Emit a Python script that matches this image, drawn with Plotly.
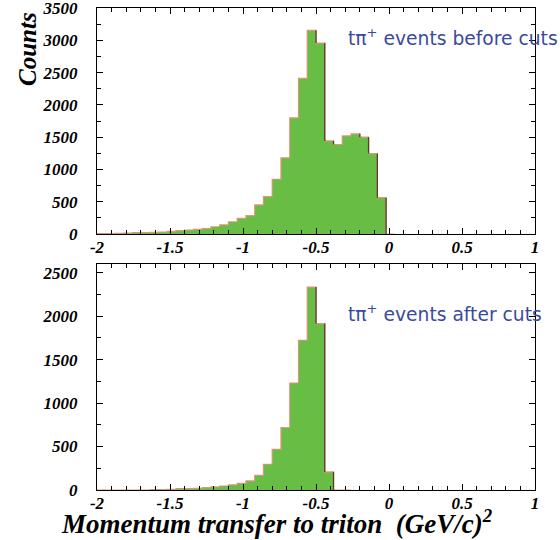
import plotly.graph_objects as go

# Histogram binning: 0.06-wide bins starting at t = -2
BIN_START = -2.0
BIN_WIDTH = 0.06

# Counts per bin, tπ+ events before cuts (bins from -2.00 up to 0.04)
counts_before = [
    5, 5, 10, 15, 18, 20, 25, 30, 40, 52,
    62, 72, 83, 112, 140, 190, 243, 284, 450, 579,
    848, 1179, 1799, 2409, 3154, 2957, 1442, 1386, 1520, 1551,
    1499, 1246, 563, 0,
]

# Counts per bin, tπ+ events after cuts (bins from -2.00 up to -0.26)
counts_after = [
    0, 0, 0, 0, 0, 0, 3, 5, 8, 12,
    15, 19, 27, 35, 46, 58, 77, 104, 169, 296,
    469, 719, 1231, 1723, 2335, 1915, 208, 0, 0,
]

x_tickvals = [-2, -1.5, -1, -0.5, 0, 0.5, 1]
x_ticktext = ["-2", "-1.5", "-1", "-0.5", "0", "0.5", "1"]
y_tickvals_top = [0, 500, 1000, 1500, 2000, 2500, 3000, 3500]
y_tickvals_bottom = [0, 500, 1000, 1500, 2000, 2500]

label_before = "tπ<sup>+</sup> events before cuts"
label_after = "tπ<sup>+</sup> events after cuts"
y_title = "Counts"
x_title = "Momentum transfer to triton  (GeV/c)<sup>2</sup>"

FILL = "#68bd45"
EDGE_LIGHT = "#d89878"
EDGE_DARK = "#5a3c28"
TEXT_BLUE = "#3a4a9c"

W, H = 560, 540
SERIF = "Liberation Serif"


def hist_traces(values, xa, ya):
    n = len(values)
    edges = [BIN_START + BIN_WIDTH * k for k in range(n + 1)]
    centers = [(edges[k] + edges[k + 1]) / 2 for k in range(n)]
    bars = go.Bar(
        x=centers, y=values, width=BIN_WIDTH,
        marker=dict(color=FILL, line=dict(width=0)),
        xaxis=xa, yaxis=ya, showlegend=False, hoverinfo="skip",
    )
    # outline drawn as a step curve
    sx = [edges[0]] + edges[:-1] + [edges[-1], edges[-1]]
    sy = [0] + list(values) + [values[-1], 0]
    outline = go.Scatter(
        x=sx, y=sy, mode="lines", line=dict(color=EDGE_LIGHT, width=1.2, shape="hv"),
        xaxis=xa, yaxis=ya, showlegend=False, hoverinfo="skip",
    )
    # darker shading on the falling edges
    dx, dy = [], []
    nxt = list(values[1:]) + [0]
    for k in range(n):
        if values[k] > nxt[k]:
            dx += [edges[k + 1], edges[k + 1], None]
            dy += [nxt[k], values[k], None]
    falling = go.Scatter(
        x=dx, y=dy, mode="lines", line=dict(color=EDGE_DARK, width=1.3),
        xaxis=xa, yaxis=ya, showlegend=False, hoverinfo="skip",
    )
    return [bars, outline, falling]


fig = go.Figure()
for t in hist_traces(counts_before, "x", "y"):
    fig.add_trace(t)
for t in hist_traces(counts_after, "x2", "y2"):
    fig.add_trace(t)

x_left, x_right = 97 / W, 535 / W


def tick_font():
    return dict(family=SERIF, size=17, color="black", weight="bold", style="italic")


def xaxis_cfg(anchor):
    return dict(
        domain=[x_left, x_right], anchor=anchor, range=[-2, 1],
        showline=True, linecolor="black", linewidth=1, mirror="ticks",
        showgrid=False, zeroline=False, automargin=False,
        tickmode="array", tickvals=x_tickvals, ticktext=x_ticktext,
        ticks="inside", ticklen=6, tickcolor="black", tickwidth=1,
        tickfont=tick_font(), ticklabelstandoff=-2, ticklabeloverflow="allow",
        minor=dict(ticks="inside", dtick=0.1, tick0=-2, ticklen=4,
                   tickcolor="black", showgrid=False),
    )


def yaxis_cfg(anchor, top_px, bottom_px, ymax, tickvals):
    return dict(
        domain=[1 - bottom_px / H, 1 - top_px / H], anchor=anchor,
        range=[0, ymax],
        showline=True, linecolor="black", linewidth=1, mirror="ticks",
        showgrid=False, zeroline=False, automargin=False,
        tickmode="array", tickvals=tickvals, ticktext=[str(v) for v in tickvals],
        ticks="inside", ticklen=6, tickcolor="black", tickwidth=1,
        tickfont=tick_font(), ticklabelstandoff=15, ticklabeloverflow="allow",
        minor=dict(ticks="inside", dtick=250, tick0=0, ticklen=4,
                   tickcolor="black", showgrid=False),
    )


fig.update_layout(
    width=W, height=H,
    margin=dict(l=0, r=0, t=0, b=0, pad=0, autoexpand=False),
    paper_bgcolor="white", plot_bgcolor="white",
    bargap=0, barmode="overlay",
    xaxis=xaxis_cfg("y"),
    yaxis=yaxis_cfg("x", 8, 234, 3500, y_tickvals_top),
    xaxis2=xaxis_cfg("y2"),
    yaxis2=yaxis_cfg("x2", 264, 490, 2600, y_tickvals_bottom),
)

label_font = dict(family="DejaVu Sans", size=18.7, color=TEXT_BLUE)
title_font = dict(family=SERIF, size=27, color="black",
                  weight="bold", style="italic")

fig.add_annotation(text=label_before, xref="paper", yref="paper",
                   x=346 / W, y=1 - 37 / H, xanchor="left", yanchor="middle",
                   showarrow=False, font=label_font)
fig.add_annotation(text=label_after, xref="paper", yref="paper",
                   x=346 / W, y=1 - 313 / H, xanchor="left", yanchor="middle",
                   showarrow=False, font=label_font)
fig.add_annotation(text=y_title, xref="paper", yref="paper",
                   x=27 / W, y=1 - 49 / H, xanchor="center", yanchor="middle",
                   textangle=-90, showarrow=False,
                   font=dict(title_font, size=25))
fig.add_annotation(text=x_title, xref="paper", yref="paper",
                   x=277 / W, y=1 - 522 / H, xanchor="center", yanchor="middle",
                   showarrow=False, font=title_font)

fig.write_html("out.html")
